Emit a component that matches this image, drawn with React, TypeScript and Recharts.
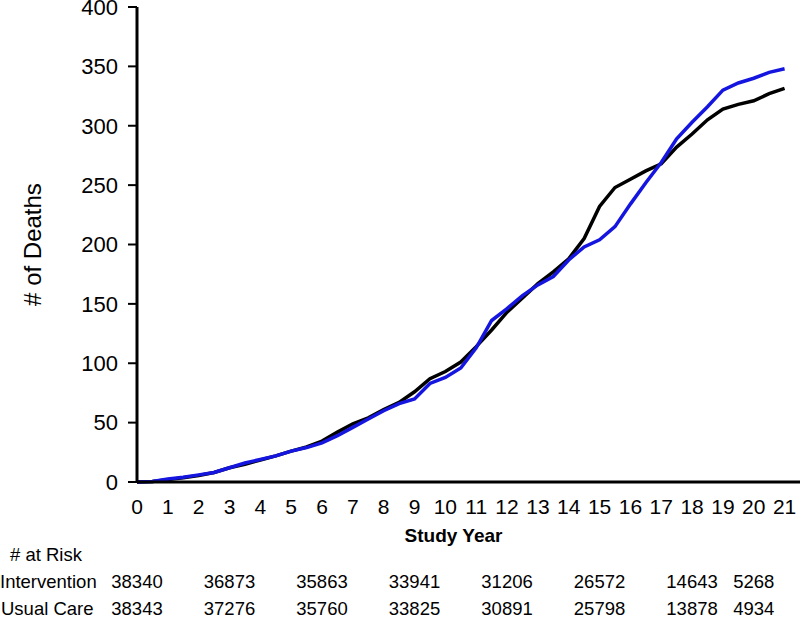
import { Line, LineChart, XAxis, YAxis } from "recharts";

/* cumulative deaths at half-year steps */
const years = [
  0, 0.5, 1, 1.5, 2, 2.5, 3, 3.5, 4, 4.5, 5, 5.5, 6, 6.5, 7, 7.5, 8, 8.5, 9, 9.5, 10, 10.5,
  11, 11.5, 12, 12.5, 13, 13.5, 14, 14.5, 15, 15.5, 16, 16.5, 17, 17.5, 18, 18.5, 19, 19.5,
  20, 20.5, 21,
];

const deathsBlack = [
  0, 0.5, 2, 3.5, 5.5, 8, 12, 15, 18.5, 22, 26, 29.5, 34.5, 42, 49, 54, 61, 67, 76, 87, 93,
  101, 114, 128, 143, 155, 167, 177, 188, 205, 232, 248, 255, 262, 268, 282, 293, 305, 314,
  318, 321, 327, 331.5,
];

const deathsBlue = [
  0, 0.5, 2.5, 4, 6, 8, 12, 16, 19, 22, 26, 29, 33, 39, 46, 53, 60, 66, 70, 83, 88, 96, 113,
  136, 146, 157, 166, 173, 187, 198, 204, 215, 234, 252, 269, 289, 303, 316, 330, 336, 340,
  345, 348,
];

const yearTicks = [0, 1, 2, 3, 4, 5, 6, 7, 8, 9, 10, 11, 12, 13, 14, 15, 16, 17, 18, 19, 20, 21];
const deathTicks = [0, 50, 100, 150, 200, 250, 300, 350, 400];

/* number at risk table */
const riskYears = [0, 3, 6, 9, 12, 15, 18, 20];
const riskIntervention = [38340, 36873, 35863, 33941, 31206, 26572, 14643, 5268];
const riskUsualCare = [38343, 37276, 35760, 33825, 30891, 25798, 13878, 4934];

const FONT = "Arial, 'Liberation Sans', sans-serif";
const X_DOMAIN: [number, number] = [0, 21.5];

const data = years.map((year, i) => ({
  year,
  black: deathsBlack[i],
  blue: deathsBlue[i],
}));

function riskLabel(list: number[]) {
  return (v: number) => {
    const i = riskYears.indexOf(v);
    return i >= 0 ? String(list[i]) : "";
  };
}

export default function App() {
  const rowText: React.CSSProperties = {
    position: "absolute",
    left: 0,
    fontSize: 18.5,
    lineHeight: "18px",
    color: "#000",
    whiteSpace: "nowrap",
  };

  // axis ids sort in stacking order (closest to the plot first)
  return (
    <div
      style={{
        position: "absolute",
        left: 0,
        top: 0,
        width: 800,
        height: 617,
        background: "#fff",
        fontFamily: FONT,
        overflow: "hidden",
      }}
    >
      <LineChart
        width={800}
        height={617}
        data={data}
        margin={{ top: 7, right: 0, left: 0, bottom: 0 }}
        style={{ fontFamily: FONT }}
      >
        <XAxis
          xAxisId="a_year"
          dataKey="year"
          type="number"
          domain={X_DOMAIN}
          allowDataOverflow
          ticks={yearTicks}
          interval={0}
          height={60}
          tickLine={false}
          tickSize={0}
          tickMargin={17}
          axisLine={{ stroke: "#000", strokeWidth: 3 }}
          tick={{ fill: "#000", fontSize: 21 }}
          label={{
            value: "Study Year",
            position: "insideBottom",
            offset: 0,
            dx: -15,
            style: { fill: "#000", fontSize: 19, fontWeight: 700 },
          }}
        />
        <XAxis
          xAxisId="b_int"
          dataKey="year"
          type="number"
          domain={X_DOMAIN}
          allowDataOverflow
          ticks={riskYears}
          interval={0}
          height={27}
          axisLine={false}
          tickLine={false}
          tickSize={0}
          tickMargin={33}
          tickFormatter={riskLabel(riskIntervention)}
          tick={{ fill: "#000", fontSize: 18.5 }}
        />
        <XAxis
          xAxisId="c_uc"
          dataKey="year"
          type="number"
          domain={X_DOMAIN}
          allowDataOverflow
          ticks={riskYears}
          interval={0}
          height={48}
          axisLine={false}
          tickLine={false}
          tickSize={0}
          tickMargin={33}
          tickFormatter={riskLabel(riskUsualCare)}
          tick={{ fill: "#000", fontSize: 18.5 }}
        />
        <YAxis
          type="number"
          domain={[0, 400]}
          ticks={deathTicks}
          interval={0}
          width={137}
          tickSize={9}
          tickMargin={10}
          axisLine={{ stroke: "#000", strokeWidth: 3 }}
          tickLine={{ stroke: "#000", strokeWidth: 2 }}
          tick={{ fill: "#000", fontSize: 22 }}
          label={{
            value: "# of Deaths",
            angle: -90,
            position: "center",
            dx: -36,
            style: { fill: "#000", fontSize: 24 },
          }}
        />
        <Line
          xAxisId="a_year"
          type="linear"
          dataKey="black"
          stroke="#000"
          strokeWidth={3.5}
          dot={false}
          isAnimationActive={false}
        />
        <Line
          xAxisId="a_year"
          type="linear"
          dataKey="blue"
          stroke="#1515e0"
          strokeWidth={3.5}
          dot={false}
          isAnimationActive={false}
        />
      </LineChart>

      <div style={{ ...rowText, left: 10, top: 546 }}># at Risk</div>
      <div style={{ ...rowText, top: 573 }}>Intervention</div>
      <div style={{ ...rowText, left: 1, top: 600 }}>Usual Care</div>
    </div>
  );
}
